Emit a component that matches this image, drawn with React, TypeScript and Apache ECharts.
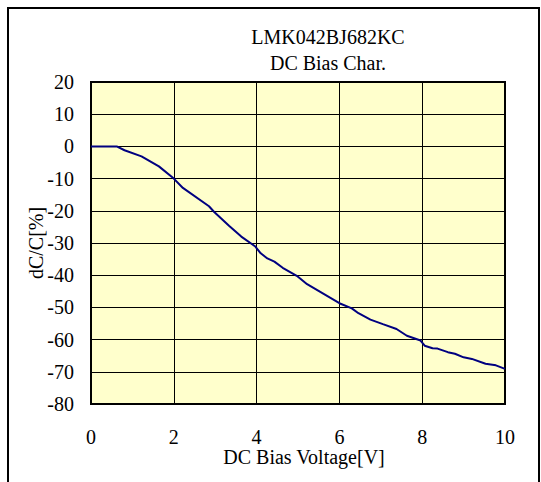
import React, { useEffect, useRef } from "react";
import * as echarts from "echarts";

const titleLines = ["LMK042BJ682KC", "DC Bias Char."];
const xAxisName = "DC Bias Voltage[V]";
const yAxisName = "dC/C[%]";

const voltage = [0, 0.3, 0.62, 0.81, 1.22, 1.64, 2.0, 2.22, 2.85, 2.97, 3.34, 3.63, 3.97, 4.1, 4.26, 4.43, 4.63, 4.97, 5.22, 5.63, 6.0, 6.3, 6.46, 6.75, 7.05, 7.38, 7.63, 7.96, 8.06, 8.25, 8.37, 8.62, 8.79, 9.0, 9.2, 9.53, 9.78, 10.0];
const dcPercent = [0, 0, 0, -1.2, -3.1, -6.2, -10, -12.9, -18.6, -20.3, -24.7, -28, -31.1, -33.2, -34.8, -35.8, -37.7, -40.2, -42.8, -45.9, -48.7, -50.3, -51.8, -53.8, -55.2, -56.7, -58.8, -60.3, -61.9, -62.7, -62.8, -63.9, -64.4, -65.5, -66, -67.5, -68, -69.1];

const FONT = "'Times New Roman', 'Liberation Serif', serif";

export default function App() {
  const ref = useRef<HTMLDivElement>(null);
  useEffect(() => {
    if (!ref.current) return;
    const chart = echarts.init(ref.current, undefined, { renderer: "svg" });
    const data = voltage.map((v, i) => [v, dcPercent[i]]);
    chart.setOption({
      animation: false,
      backgroundColor: "#ffffff",
      textStyle: { fontFamily: FONT },
      graphic: [
        {
          type: "rect",
          shape: { x: 8, y: 8, width: 531, height: 500 },
          style: { fill: "none", stroke: "#000", lineWidth: 2 },
          silent: true,
        },
        {
          type: "text",
          x: 328,
          y: 37,
          style: { text: titleLines[0], font: `20px ${FONT}`, fill: "#000", align: "center", verticalAlign: "middle" },
        },
        {
          type: "text",
          x: 328,
          y: 63,
          style: { text: titleLines[1], font: `20px ${FONT}`, fill: "#000", align: "center", verticalAlign: "middle" },
        },
      ],
      grid: {
        left: 91,
        top: 82,
        right: 36,
        bottom: 78,
        show: true,
        backgroundColor: "#FFFFCC",
        borderColor: "#000",
        borderWidth: 2,
        containLabel: false,
      },
      xAxis: {
        type: "value",
        min: 0,
        max: 10,
        interval: 2,
        name: xAxisName,
        nameLocation: "middle",
        nameGap: 43,
        nameMoveOverlap: false,
        nameTextStyle: { fontSize: 20, color: "#000", fontFamily: FONT, padding: [0, 0, 0, 12] },
        axisLine: { show: false },
        axisTick: { show: false },
        axisLabel: { fontSize: 20, color: "#000", margin: 23, fontFamily: FONT },
        splitLine: { show: true, lineStyle: { color: "#000", width: 1 } },
      },
      yAxis: {
        type: "value",
        min: -80,
        max: 20,
        interval: 10,
        name: yAxisName,
        nameLocation: "middle",
        nameGap: 45,
        nameMoveOverlap: false,
        nameRotate: 90,
        nameTextStyle: { fontSize: 20, color: "#000", fontFamily: FONT },
        axisLine: { show: false },
        axisTick: { show: false },
        axisLabel: { fontSize: 20, color: "#000", margin: 17, fontFamily: FONT },
        splitLine: { show: true, lineStyle: { color: "#000", width: 1 } },
      },
      series: [
        {
          type: "line",
          data,
          showSymbol: false,
          smooth: false,
          lineStyle: { color: "#000080", width: 2 },
        },
      ],
    });
    return () => chart.dispose();
  }, []);
  return (
    <div
      ref={ref}
      style={{ position: "fixed", left: 0, top: 0, width: 541, height: 482 }}
    />
  );
}
